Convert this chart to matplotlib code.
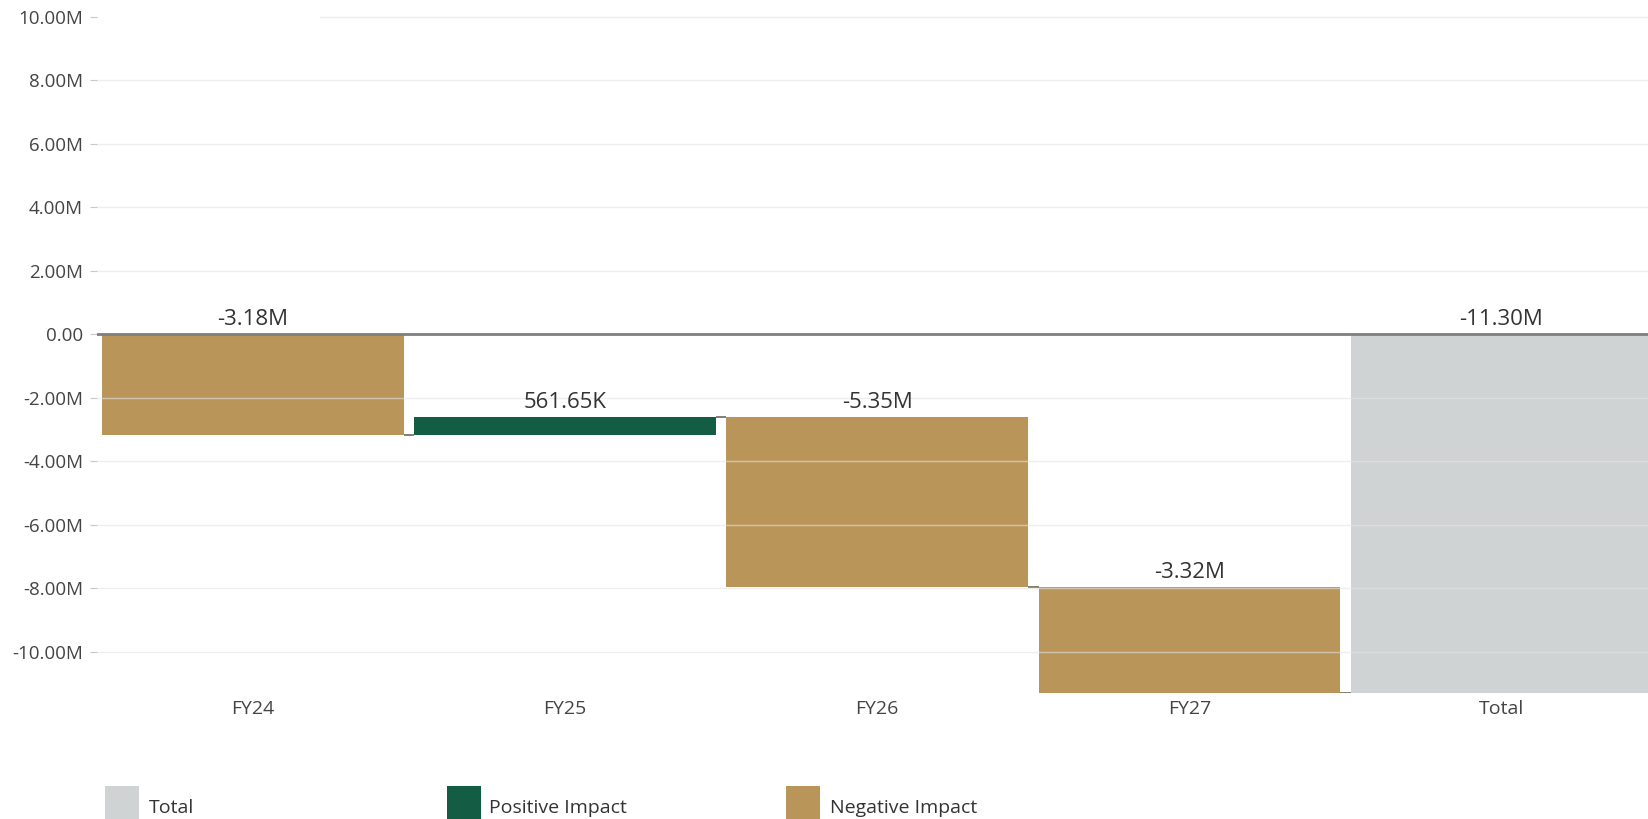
import matplotlib.pyplot as plt
from matplotlib.patches import Rectangle

plt.rcParams['font.family'] = ['Open Sans', 'DejaVu Sans']

# waterfall steps (in units)
categories = ['FY24', 'FY25', 'FY26', 'FY27']
changes = [-3.184e6, 561.65e3, -5.353e6, -3.324e6]
total_label = 'Total'
y_ticks = [10e6, 8e6, 6e6, 4e6, 2e6, 0, -2e6, -4e6, -6e6, -8e6, -10e6]

c_total = '#d0d3d4'
c_pos = '#145c43'
c_neg = '#b99559'


def fmt(v):
    if v == 0:
        return '0.00'
    if abs(v) >= 1e6:
        return f'{v / 1e6:.2f}M'
    return f'{v / 1e3:.2f}K'


fig = plt.figure(figsize=(16.48, 8.19), dpi=100)
ax = fig.add_axes([0.0589, 0.154, 0.9411, 0.846])

width = 0.966
start = 0.0
ends = []
for i, ch in enumerate(changes):
    end = start + ch
    color = c_pos if ch > 0 else c_neg
    ax.bar(i, ch, bottom=start, width=width, color=color, lw=0, zorder=2)
    ax.annotate(fmt(ch), (i, max(start, end)), xytext=(0, 3), textcoords='offset points',
                ha='center', va='bottom', fontsize=16, color='#333333', zorder=5)
    ends.append(end)
    start = end

total = sum(changes)
n = len(categories)
ax.bar(n, total, width=width, color=c_total, lw=0, zorder=2)
ax.annotate(fmt(total), (n, 0), xytext=(0, 3), textcoords='offset points',
            ha='center', va='bottom', fontsize=16, color='#333333', zorder=5)

# connectors between steps
for i, e in enumerate(ends):
    ax.plot([i + width / 2, i + 1 - width / 2], [e, e], color='#6b6b5a', lw=1.2,
            solid_capstyle='butt', zorder=3)

# grid lines over the bars, top one starts further right
for t in y_ticks:
    if t == 0:
        continue
    xmin = 0.144 if t == y_ticks[0] else 0
    ax.axhline(t, xmin=xmin, color='#e4e4e4', lw=1, alpha=0.6, zorder=3)
ax.axhline(0, color='#7f7f7f', lw=2, zorder=4)

ax.set_xlim(-0.5, 4.47)
ax.set_ylim(total, 10.53e6)
ax.set_xticks(range(n + 1))
ax.set_xticklabels(categories + [total_label], fontsize=14, color='#444444')
ax.set_yticks(y_ticks)
ax.set_yticklabels([fmt(t) for t in y_ticks], fontsize=13.5, color='#444444')
ax.tick_params(axis='x', length=0, pad=5)
ax.tick_params(axis='y', length=5, color='#c8c8c8', pad=5)
for s in ax.spines.values():
    s.set_visible(False)

# legend row along the bottom
legend = [(c_total, 'Total', 0.0637, 0.0904),
          (c_pos, 'Positive Impact', 0.2712, 0.2967),
          (c_neg, 'Negative Impact', 0.4769, 0.5036)]
for color, text, x_box, x_txt in legend:
    fig.add_artist(Rectangle((x_box, 0), 0.0206, 0.04, transform=fig.transFigure,
                             color=color, lw=0))
    fig.text(x_txt, 0.013, text, fontsize=14, color='#333333', va='center', ha='left')

fig.savefig('out.png', dpi=100)
